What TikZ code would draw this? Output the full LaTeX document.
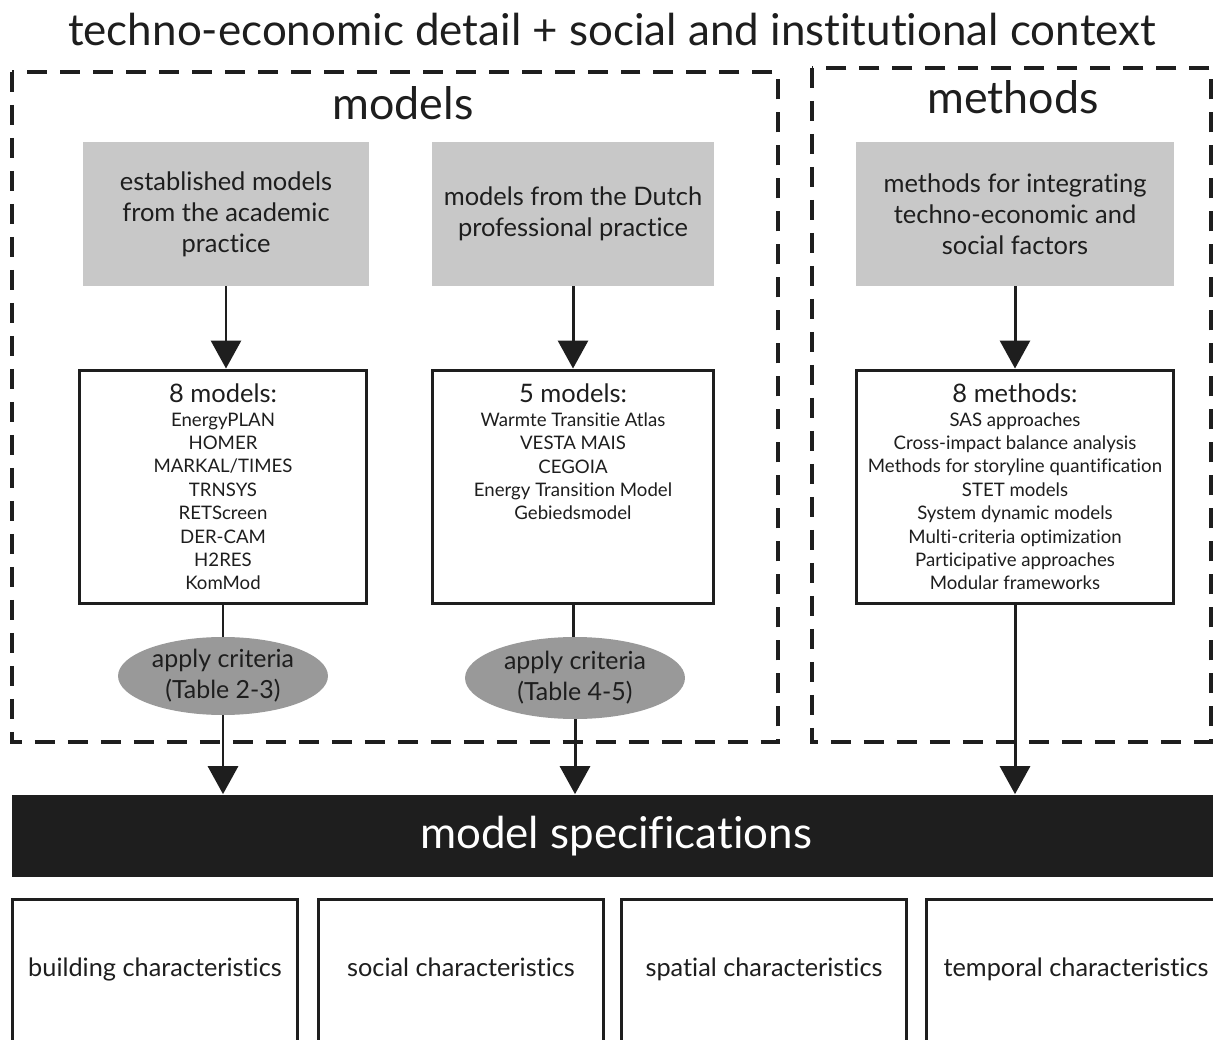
\documentclass[tikz,border=0pt]{standalone}
\usepackage{fontspec}
\setmainfont{Lato}[Ligatures=NoCommon]
\usetikzlibrary{arrows.meta,shapes.geometric}

\definecolor{boxgrey}{HTML}{C8C8C8}
\definecolor{critgrey}{HTML}{999999}
\definecolor{ink}{HTML}{1E1E1E}

\begin{document}
\begin{tikzpicture}[x=0.02cm, y=-0.02cm,
    frame/.style={draw=ink, line width=1.8pt, dash pattern=on 0.4cm off 0.26cm},
    gbox/.style={rectangle, fill=boxgrey, inner sep=0pt, minimum height=2.88cm, align=center, font=\fontsize{14.5}{17.6}\selectfont},
    wbox/.style={rectangle, draw=ink, line width=1.7pt, inner sep=0pt, minimum height=4.68cm, align=center, font=\fontsize{10.6}{13.3}\selectfont},
    crit/.style={ellipse, fill=critgrey, inner sep=0pt, align=center, font=\fontsize{14.2}{17.6}\selectfont},
    cbox/.style={rectangle, draw=ink, line width=1.7pt, anchor=north, inner sep=0pt, minimum width=5.72cm, text height=1.54cm, text depth=3cm, font=\fontsize{14.4}{16}\selectfont},
    arr/.style={draw=ink, line width=1.7pt, -{Triangle[width=0.6cm, length=0.56cm]}}]
    \useasboundingbox (0,0) rectangle (1213,1040);
    \fill[white] (0,0) rectangle (1213,1040);

    % title and the two groups
    \node [font=\fontsize{25}{30}\selectfont, text=ink] (title) at (612,30) {techno-economic detail + social and institutional context};
    \draw [frame] (12,72) rectangle (778,742);
    \draw [frame] (812,68) rectangle (1211,742);
    \node [font=\fontsize{25.5}{30}\selectfont, text=ink] (models) at (403,103) {models};
    \node [font=\fontsize{25.5}{30}\selectfont, text=ink] (methods) at (1013,97) {methods};

    % sources
    \node [gbox, minimum width=5.72cm, text=ink] (acad) at (226,214) {established models\\from the academic\\practice};
    \node [gbox, minimum width=5.64cm, text=ink] (dutch) at (573,214) {models from the Dutch\\professional practice};
    \node [gbox, minimum width=6.36cm, text=ink] (integ) at (1015,214) {methods for integrating\\techno-economic and\\social factors};

    % lists
    \node [wbox, minimum width=5.76cm, text=ink] (acadlist) at (223,487) {{\fontsize{14.5}{15}\selectfont 8 models:}\\EnergyPLAN\\HOMER\\MARKAL/TIMES\\TRNSYS\\RETScreen\\DER-CAM\\H2RES\\KomMod};
    \node [wbox, minimum width=5.64cm, text=ink] (dutchlist) at (573,487) {{\fontsize{14.5}{15}\selectfont 5 models:}\\Warmte Transitie Atlas\\VESTA MAIS\\CEGOIA\\Energy Transition Model\\Gebiedsmodel\\~\\~\\~};
    \node [wbox, minimum width=6.36cm, text=ink] (integlist) at (1015,487) {{\fontsize{14.5}{15}\selectfont 8 methods:}\\SAS approaches\\Cross-impact balance analysis\\Methods for storyline quantification\\STET models\\System dynamic models\\Multi-criteria optimization\\Participative approaches\\Modular frameworks};

    % criteria
    \node [crit, minimum width=4.2cm, minimum height=1.56cm, text=ink] (crit1) at (223,676) {apply criteria\\(Table 2-3)};
    \node [crit, minimum width=4.4cm, minimum height=1.64cm, text=ink] (crit2) at (575,678) {apply criteria\\(Table 4-5)};

    % specifications
    \node [rectangle, fill=ink, inner sep=0pt, minimum width=24.4cm, minimum height=1.66cm, text=white, font=\fontsize{25}{30}\selectfont] (spec) at (622,836) {\hspace*{-0.24cm}model specifications};
    \node [cbox, text=ink] (build) at (155,898) {building characteristics};
    \node [cbox, text=ink] (social) at (461,898) {social characteristics};
    \node [cbox, text=ink] (spatial) at (764,898) {spatial characteristics};
    \node [cbox, minimum width=6cm, text=ink] (temporal) at (1076,898) {temporal characteristics};

    % connectors
    \draw [arr] (acad.south) -- (acad.south |- acadlist.north);
    \draw [arr] (dutch.south) -- (dutch.south |- dutchlist.north);
    \draw [arr] (integ.south) -- (integ.south |- integlist.north);
    \draw [draw=ink, line width=1.7pt] (acadlist.south) -- (acadlist.south |- crit1.north);
    \draw [draw=ink, line width=1.7pt] (dutchlist.south) -- (dutchlist.south |- crit2.north);
    \draw [arr] (crit1.south) -- (crit1.south |- spec.north);
    \draw [arr] (crit2.south) -- (crit2.south |- spec.north);
    \draw [arr] (integlist.south) -- (integlist.south |- spec.north);
\end{tikzpicture}
\end{document}
